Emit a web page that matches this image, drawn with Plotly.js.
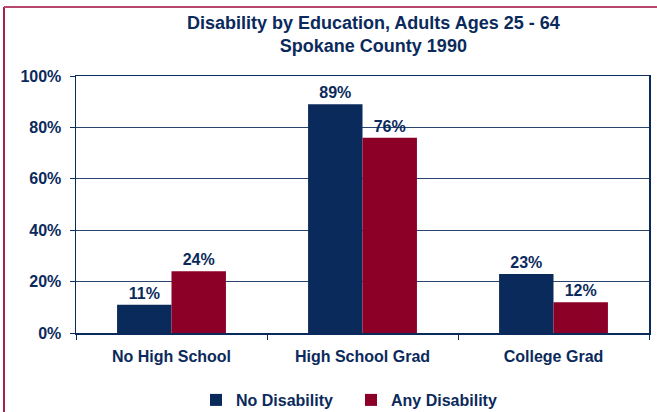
<!DOCTYPE html>
<html>
<head>
<meta charset="utf-8">
<script src="https://cdn.plot.ly/plotly-3.0.1.min.js"></script>
<style>
html,body{margin:0;padding:0;background:#fff;}
#chart{width:657px;height:412px;}
</style>
</head>
<body>
<div id="chart"></div>
<script>
const categories = ["No High School", "High School Grad", "College Grad"];
const noDisability = [11, 89, 23];
const anyDisability = [24, 76, 12];
const seriesNames = ["No Disability", "Any Disability"];
const yTickVals = [0, 20, 40, 60, 80, 100];
const yTickText = ["0%", "20%", "40%", "60%", "80%", "100%"];
const titleText = "Disability by Education, Adults Ages 25 - 64<br>Spokane County 1990";

const NAVY = "#0B2A5C";
const RED = "#8C0028";
const FONT = "Liberation Sans, Arial, sans-serif";

const traces = [
  {
    type: "bar", name: seriesNames[0], x: categories, y: noDisability,
    marker: {color: NAVY},
    text: noDisability.map(v => v + "%"), textposition: "outside",
    textfont: {family: FONT, size: 16, color: NAVY, weight: "bold"},
    cliponaxis: false, hoverinfo: "none"
  },
  {
    type: "bar", name: seriesNames[1], x: categories, y: anyDisability,
    marker: {color: RED},
    text: anyDisability.map(v => v + "%"), textposition: "outside",
    textfont: {family: FONT, size: 16, color: NAVY, weight: "bold"},
    cliponaxis: false, hoverinfo: "none"
  }
];

const layout = {
  width: 657, height: 412,
  margin: {l: 76, r: 8, t: 76, b: 79, autoexpand: false},
  paper_bgcolor: "#fff", plot_bgcolor: "#fff",
  font: {family: FONT, color: NAVY, size: 16, weight: "bold"},
  barmode: "group", bargap: 0.43, bargroupgap: 0,
  showlegend: true,
  legend: {
    orientation: "h", x: (196 - 76) / 573, xanchor: "left",
    y: -(400 - 333) / 257, yanchor: "middle",
    font: {family: FONT, size: 16, color: NAVY, weight: "bold"},
    traceorder: "normal", itemwidth: 30,
    entrywidth: 110, entrywidthmode: "pixels",
    bgcolor: "rgba(0,0,0,0)"
  },
  xaxis: {
    type: "category",
    showline: true, linecolor: NAVY, linewidth: 1.5, mirror: true,
    ticks: "outside", tickson: "boundaries", ticklen: 5, tickcolor: NAVY,
    ticklabelstandoff: 8,
    showgrid: false, zeroline: false,
    tickfont: {family: FONT, size: 16, color: NAVY, weight: "bold"},
    fixedrange: true
  },
  yaxis: {
    range: [0, 100],
    tickvals: yTickVals, ticktext: yTickText,
    showline: true, linecolor: NAVY, linewidth: 1.5, mirror: true,
    ticks: "outside", ticklen: 5, tickcolor: NAVY,
    ticklabelstandoff: 5,
    showgrid: true, gridcolor: "#2A4470", gridwidth: 1,
    zeroline: false,
    tickfont: {family: FONT, size: 16, color: NAVY, weight: "bold"},
    fixedrange: true
  },
  annotations: [
    {text: titleText, xref: "paper", yref: "paper",
     x: (373 - 76) / 573, xanchor: "center",
     y: 1 + (76 - 11) / 257, yanchor: "top",
     showarrow: false,
     font: {family: FONT, size: 18, color: NAVY, weight: "bold"}}
  ],
  shapes: [
    {type: "line", xref: "paper", yref: "paper",
     x0: (4 - 76) / 573, x1: (4 - 76) / 573, y0: 1 + 69 / 257, y1: -79 / 257,
     line: {color: "#A8204A", width: 2}},
    {type: "line", xref: "paper", yref: "paper",
     x0: (4 - 76) / 573, x1: 81 / 573 + 1, y0: 1 + 69 / 257, y1: 1 + 69 / 257,
     line: {color: "#B8466A", width: 2}}
  ]
};

Plotly.newPlot("chart", traces, layout, {displayModeBar: false, staticPlot: true});
</script>
</body>
</html>
